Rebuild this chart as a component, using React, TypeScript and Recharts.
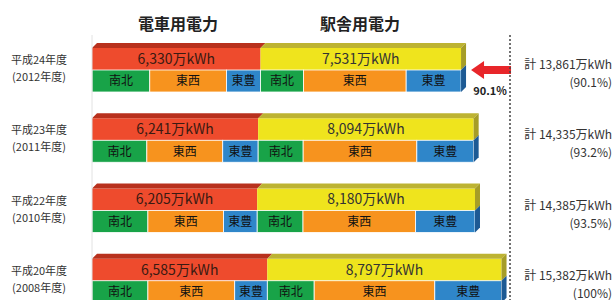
import { BarChart, Bar, XAxis, YAxis, LabelList } from 'recharts';

const eras = ['平成24年度', '平成23年度', '平成22年度', '平成20年度'];
const fiscalYears = ['(2012年度)', '(2011年度)', '(2010年度)', '(2008年度)'];

// 電車用電力 / 駅舎用電力 (万kWh)
const trainPower = [6330, 6241, 6205, 6585];
const stationPower = [7531, 8094, 8180, 8797];

// 路線別の内訳
const trainNamboku = [2170, 2060, 2100, 2100];
const trainTozai = [2880, 2850, 2840, 3260];
const trainToho = [1280, 1331, 1265, 1225];
const stationNamboku = [1610, 1690, 1720, 1760];
const stationTozai = [3860, 4270, 4230, 4530];
const stationToho = [2061, 2134, 2230, 2507];

const lineNames = ['南北', '東西', '東豊'];
const ratioLabels = ['(90.1%)', '(93.2%)', '(93.5%)', '(100%)'];
const arrowLabel = '90.1%';

const FONT = "'Noto Sans CJK JP', 'Noto Sans', sans-serif";
const D = 5;

const C = {
  red: '#ee4b2d',
  redTop: '#b8311d',
  yellow: '#efe41d',
  yellowTop: '#bdb332',
  yellowSide: '#a69d27',
  green: '#18a348',
  orange: '#f7931e',
  blue: '#2f86c9',
  blueSide: '#1d5a94',
};

const data = eras.map((era, i) => ({
  era,
  train: trainPower[i],
  station: stationPower[i],
  tN: trainNamboku[i],
  tT: trainTozai[i],
  tH: trainToho[i],
  sN: stationNamboku[i],
  sT: stationTozai[i],
  sH: stationToho[i],
}));

const fmt = (v: number) => `${v.toLocaleString('en-US')}万kWh`;

function UpperFace(props: any) {
  const { x, y, width, height, fill, topFill, sideFill, arrow } = props;
  const cy = y + height;
  const ax = x + width + D + 5;
  return (
    <g>
      <rect x={x} y={y} width={width} height={height} fill={fill} />
      <polygon points={`${x},${y} ${x + D},${y - D} ${x + width + D},${y - D} ${x + width},${y}`} fill={topFill} />
      {sideFill && (
        <polygon
          points={`${x + width},${y} ${x + width + D},${y - D} ${x + width + D},${y + height - D} ${x + width},${y + height}`}
          fill={sideFill}
        />
      )}
      {arrow && props.index === 0 && (
        <g>
          <polygon
            points={`${ax},${cy} ${ax + 13},${cy - 9} ${ax + 13},${cy - 4} ${ax + 40},${cy - 4} ${ax + 40},${cy + 4} ${ax + 13},${cy + 4} ${ax + 13},${cy + 9}`}
            fill="#e8262a"
          />
          <text x={ax + 19} y={cy + 25} textAnchor="middle" fontSize={11} fontWeight="bold" fill="#222" fontFamily={FONT}>
            {arrowLabel}
          </text>
        </g>
      )}
    </g>
  );
}

function LowerFace(props: any) {
  const { x, y, width, height, fill, sideFill } = props;
  return (
    <g>
      <rect x={x} y={y} width={width} height={height} fill={fill} stroke="#fff" strokeWidth={0.8} />
      {sideFill && (
        <polygon
          points={`${x + width},${y} ${x + width + D},${y - D} ${x + width + D},${y + height - D} ${x + width},${y + height}`}
          fill={sideFill}
        />
      )}
    </g>
  );
}

function LeftTick(props: any) {
  const { y, payload } = props;
  const i = payload.index;
  return (
    <g fontFamily={FONT} fontSize={11} fill="#333">
      <text x={39} y={y - 6} textAnchor="middle">{eras[i]}</text>
      <text x={39} y={y + 11} textAnchor="middle">{fiscalYears[i]}</text>
    </g>
  );
}

function RightTick(props: any) {
  const { y, payload } = props;
  const i = payload.index;
  return (
    <g fontFamily={FONT} fontSize={12} fill="#333">
      <text x={612} y={y - 1} textAnchor="end">{`計 ${fmt(trainPower[i] + stationPower[i])}`}</text>
      <text x={612} y={y + 17} textAnchor="end">{ratioLabels[i]}</text>
    </g>
  );
}

const lowerLabel = (name: string) => (
  <LabelList position="center" formatter={() => name} fill="#111" fontSize={12} fontFamily={FONT} />
);

export default function App() {
  return (
    <div style={{ position: 'absolute', left: 0, top: 0, width: 616, height: 320, background: '#fff', fontFamily: FONT }}>
      <div style={{ position: 'absolute', left: 128, top: 11, width: 100, textAlign: 'center', fontSize: 16, fontWeight: 'bold', color: '#222' }}>
        電車用電力
      </div>
      <div style={{ position: 'absolute', left: 310, top: 11, width: 100, textAlign: 'center', fontSize: 16, fontWeight: 'bold', color: '#222' }}>
        駅舎用電力
      </div>
      <BarChart
        width={616}
        height={320}
        data={data}
        layout="vertical"
        margin={{ top: 35, right: 0, bottom: 4, left: 0 }}
        barSize={22}
        barGap={0}
      >
        <XAxis type="number" hide domain={[0, 15700]} />
        <YAxis
          yAxisId="l"
          type="category"
          dataKey="era"
          width={92}
          tickLine={false}
          axisLine={{ stroke: '#e2e2e2' }}
          tick={<LeftTick />}
        />
        <YAxis
          yAxisId="r"
          orientation="right"
          type="category"
          dataKey="era"
          width={106}
          tickLine={false}
          axisLine={{ stroke: '#444', strokeDasharray: '2 2', strokeWidth: 1.5 }}
          tick={<RightTick />}
        />
        <Bar yAxisId="l" dataKey="train" stackId="upper" fill={C.red} isAnimationActive={false}
          shape={(p: any) => <UpperFace {...p} topFill={C.redTop} />}>
          <LabelList dataKey="train" position="center" formatter={(v: any) => fmt(v)} fill="#3a1a12" fontSize={14} fontFamily={FONT} />
        </Bar>
        <Bar yAxisId="l" dataKey="station" stackId="upper" fill={C.yellow} isAnimationActive={false}
          shape={(p: any) => <UpperFace {...p} topFill={C.yellowTop} sideFill={C.yellowSide} arrow />}>
          <LabelList dataKey="station" position="center" formatter={(v: any) => fmt(v)} fill="#333" fontSize={14} fontFamily={FONT} />
        </Bar>
        <Bar yAxisId="l" dataKey="tN" stackId="lower" fill={C.green} isAnimationActive={false} shape={(p: any) => <LowerFace {...p} />}>
          {lowerLabel(lineNames[0])}
        </Bar>
        <Bar yAxisId="l" dataKey="tT" stackId="lower" fill={C.orange} isAnimationActive={false} shape={(p: any) => <LowerFace {...p} />}>
          {lowerLabel(lineNames[1])}
        </Bar>
        <Bar yAxisId="l" dataKey="tH" stackId="lower" fill={C.blue} isAnimationActive={false} shape={(p: any) => <LowerFace {...p} />}>
          {lowerLabel(lineNames[2])}
        </Bar>
        <Bar yAxisId="l" dataKey="sN" stackId="lower" fill={C.green} isAnimationActive={false} shape={(p: any) => <LowerFace {...p} />}>
          {lowerLabel(lineNames[0])}
        </Bar>
        <Bar yAxisId="l" dataKey="sT" stackId="lower" fill={C.orange} isAnimationActive={false} shape={(p: any) => <LowerFace {...p} />}>
          {lowerLabel(lineNames[1])}
        </Bar>
        <Bar yAxisId="l" dataKey="sH" stackId="lower" fill={C.blue} isAnimationActive={false}
          shape={(p: any) => <LowerFace {...p} sideFill={C.blueSide} />}>
          {lowerLabel(lineNames[2])}
        </Bar>
      </BarChart>
    </div>
  );
}
